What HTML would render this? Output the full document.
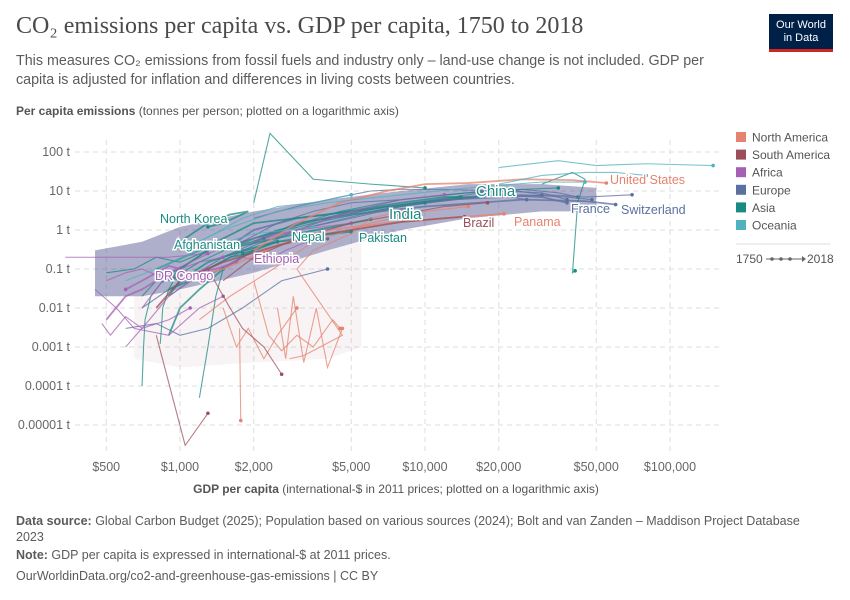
<!DOCTYPE html>
<html><head><meta charset="utf-8"><style>
body{margin:0;background:#fff;font-family:"Liberation Sans",sans-serif;}
#wrap{position:relative;width:850px;height:600px;overflow:hidden;}
.t{position:absolute;white-space:nowrap;}
</style></head><body>
<div id="wrap">
<div class="t" style="left:16px;top:13px;font-family:'Liberation Serif',serif;font-size:24px;color:#4a4a4a;">CO₂ emissions per capita vs. GDP per capita, 1750 to 2018</div>
<div class="t" style="left:16px;top:52px;font-size:14.3px;line-height:19px;color:#5b5b5b;">This measures CO₂ emissions from fossil fuels and industry only – land-use change is not included. GDP per<br>capita is adjusted for inflation and differences in living costs between countries.</div>
<div style="position:absolute;left:769px;top:14px;width:64px;height:38px;background:#002147;border-bottom:3px solid #ce261e;color:#fff;font-size:11px;line-height:13px;text-align:center;padding-top:5px;box-sizing:border-box;">Our World<br>in Data</div>
<svg id="chart" width="850" height="600" style="position:absolute;left:0;top:0"></svg>
<div class="t" style="left:16px;top:513px;font-size:12.5px;line-height:16px;color:#5b5b5b;"><b>Data source:</b> Global Carbon Budget (2025); Population based on various sources (2024); Bolt and van Zanden – Maddison Project Database<br>2023</div>
<div class="t" style="left:16px;top:548px;font-size:12.5px;color:#5b5b5b;"><b>Note:</b> GDP per capita is expressed in international-$ at 2011 prices.</div>
<div class="t" style="left:16px;top:569px;font-size:12.5px;color:#5b5b5b;">OurWorldinData.org/co2-and-greenhouse-gas-emissions | CC BY</div>
</div>
<script>
const xTicks=[500,1000,2000,5000,10000,20000,50000,100000];
const xTickLabels=["$500","$1,000","$2,000","$5,000","$10,000","$20,000","$50,000","$100,000"];
const yTicks=[100,10,1,0.1,0.01,0.001,0.0001,0.00001];
const yTickLabels=["100 t","10 t","1 t","0.1 t","0.01 t","0.001 t","0.0001 t","0.00001 t"];
const regions=["North America","South America","Africa","Europe","Asia","Oceania"];
const regionColors=["#E6836E","#9B4F5B","#A560B4","#5B70A0","#1A8B82","#4FB2BE"];
const bandGdp=[450,700,1000,2000,4000,8000,15000,30000,50000];
const bandLow=[0.02,0.02,0.03,0.08,0.3,1,2,3,3];
const bandHigh=[0.3,0.5,1.2,3,6,10,15,15,12];
const lowBandGdp=[650,1000,2000,4000,5500];
const lowBandLow=[0.0005,0.0003,0.0004,0.0005,0.001];
const lowBandHigh=[0.02,0.03,0.08,0.3,0.5];
const series=[
{n:"eu1",r:3,g:[1800,2500,3500,5000,8000,12000,18000,25000,35000,42000],c:[0.5,1.5,3,5,6,8,10,11,9,7]},
{n:"eu2",r:3,g:[1200,2000,3000,4500,7000,11000,17000,24000,30000],c:[0.05,0.3,1,2.5,4,6,9,10,8]},
{n:"eu3",r:3,g:[1500,2200,3200,5000,9000,15000,25000,38000,48000],c:[0.2,0.6,1.5,3,5,7,8,7,6]},
{n:"eu4",r:3,g:[900,1300,2000,3000,5500,9000,14000,20000,26000],c:[0.02,0.1,0.4,1,2.5,5,7,8,6]},
{n:"eu5",r:3,g:[2000,3000,4500,6000,8000,12000,20000,30000,38000],c:[2,4,7,10,11,11,10,9,6]},
{n:"eu6",r:3,g:[700,900,1100,1500,2500,4000],c:[0.01,0.03,0.06,0.2,0.5,0.6]},
{n:"eu7",r:3,g:[600,800,1000,1300,1800,2600,4000],c:[0.003,0.004,0.002,0.003,0.01,0.05,0.1]},
{n:"eu8",r:3,g:[3000,5000,8000,13000,22000,32000,45000,70000],c:[1,2,4,6,7,8,7,8]},
{n:"France",r:3,g:[1500,2000,3000,5000,10000,20000,30000,38000],c:[0.3,1,2,3,5,8,7,5]},
{n:"Switzerland",r:3,g:[2000,3000,5000,10000,25000,45000,60000],c:[0.5,1.5,2.5,4,6,5.5,4.5]},
{n:"as1",r:4,g:[700,800,1000,1300,2000,3500,6000,10000],c:[0.02,0.05,0.1,0.3,0.6,1.5,3,5]},
{n:"as2",r:4,g:[900,1200,1800,2800,4500,8000,15000,25000,35000],c:[0.05,0.15,0.5,1.2,3,6,9,11,12]},
{n:"as3",r:4,g:[2000,2330,3500,6000,10000],c:[5,300,20,15,12]},
{n:"as3b",r:5,g:[20000,35000,50000,80000,150000],c:[40,60,45,50,45]},
{n:"as4",r:4,g:[30000,40000,45000,42000,40000,41000],c:[15,30,20,5,0.08,0.09]},
{n:"as5",r:4,g:[700,710,720,760,850],c:[0.0001,0.001,0.005,0.02,0.05]},
{n:"as6",r:4,g:[830,840,850,900,1000],c:[0.0012,0.003,0.01,0.03,0.1]},
{n:"as7",r:4,g:[1500,2500,4000,7000,12000,20000],c:[0.3,1,2,4,6,8]},
{n:"as8",r:4,g:[500,650,800,1000,1300,1700,2200],c:[0.08,0.1,0.2,0.15,0.3,0.4,0.6]},
{n:"as9",r:4,g:[1200,1300,1400,1500],c:[0.00005,0.001,0.02,0.1]},
{n:"North Korea",r:4,g:[1000,1300,1600,1900,1500,1300],c:[0.5,1.5,2.5,3,1.5,1.2]},
{n:"Afghanistan",r:4,g:[900,1100,1300,1600,1900,2000,1800],c:[0.03,0.05,0.1,0.2,0.25,0.3,0.25]},
{n:"Nepal",r:4,g:[900,1000,1200,1500,2000,2500],c:[0.002,0.01,0.03,0.1,0.3,0.5]},
{n:"Pakistan",r:4,g:[1000,1300,1800,2500,3500,5000],c:[0.05,0.15,0.3,0.5,0.7,0.9]},
{n:"India",r:4,g:[900,1000,1100,1300,1800,3000,4500,6000],c:[0.05,0.1,0.15,0.3,0.4,0.8,1.3,1.9]},
{n:"China",r:4,g:[900,1000,800,1200,2000,4000,8000,12000,14000],c:[0.02,0.05,0.1,0.3,1.5,2.5,5,7,7]},
{n:"af1",r:2,g:[500,600,700,800,1000,1200,1500],c:[0.05,0.08,0.1,0.07,0.1,0.15,0.2]},
{n:"af2",r:2,g:[700,800,900,1100,1400,2000,3000,5000],c:[0.01,0.03,0.08,0.15,0.3,0.6,1,1.5]},
{n:"Ethiopia",r:2,g:[500,600,700,800,1000,1400,1700],c:[0.005,0.02,0.03,0.05,0.07,0.1,0.15]},
{n:"DR Congo",r:2,g:[1200,1000,900,800,700,600],c:[0.05,0.1,0.12,0.08,0.05,0.03]},
{n:"af5",r:2,g:[450,550,650,900,1200,1500],c:[0.03,0.01,0.003,0.002,0.01,0.02]},
{n:"af6",r:1,g:[800,1050,1300],c:[0.002,0.000003,0.00002]},
{n:"af7",r:2,g:[2000,3000,5000,8000,12000],c:[0.5,1,3,6,8]},
{n:"af8",r:2,g:[340,500,900,1300],c:[0.2,0.2,0.2,0.25]},
{n:"af9",r:2,g:[600,750,900,1100,1300],c:[0.001,0.005,0.02,0.05,0.1]},
{n:"af10",r:2,g:[480,520,600,700,900,1100],c:[0.004,0.002,0.006,0.003,0.005,0.01]},
{n:"af11",r:2,g:[1500,1800,2200,2700,3300],c:[0.1,0.2,0.15,0.3,0.5]},
{n:"na1",r:0,g:[1500,1700,1900,2200,2500,3000],c:[0.01,0.001,0.003,0.0005,0.002,0.01]},
{n:"na2",r:0,g:[2000,2300,2600,3000,3500,4200,4500],c:[0.05,0.002,0.0008,0.002,0.001,0.005,0.003]},
{n:"na3",r:0,g:[1750,1760,1770],c:[0.003,0.0002,0.000013]},
{n:"na4",r:0,g:[2800,3200,4600,3000,3500,5000,6000,8000],c:[0.0005,0.0006,0.002,0.1,0.3,0.8,2,3]},
{n:"na6",r:0,g:[2500,2700,2900,3200,3600,4000,4600],c:[0.01,0.0005,0.02,0.0004,0.01,0.0003,0.003]},
{n:"United States",r:0,g:[2000,3000,4500,7000,10000,15000,25000,40000,55000],c:[0.3,1.5,5,10,15,16,20,19,16]},
{n:"Panama",r:0,g:[1000,1500,2500,4000,7000,12000,21000],c:[0.05,0.1,0.4,1,1.5,2,2.6]},
{n:"na5",r:0,g:[1200,1600,2400,3500,6000,10000,15000],c:[0.005,0.02,0.1,0.5,1.5,3,4]},
{n:"Brazil",r:1,g:[800,1000,1500,2500,4000,8000,12000,14500],c:[0.01,0.05,0.15,0.4,0.8,1.6,2,2.2]},
{n:"sa1",r:1,g:[1500,2000,3000,5000,8000,12000,18000],c:[0.05,0.2,0.6,1.5,2.5,4,5]},
{n:"sa2",r:1,g:[1300,1600,1800,2200,2600],c:[0.1,0.01,0.003,0.001,0.0002]},
{n:"oc1",r:5,g:[1000,1500,2500,4000,8000,15000,30000,45000],c:[0.3,1,3,5,8,12,17,17]},
{n:"oc2",r:5,g:[600,800,1200,2000,3500],c:[0.05,0.1,0.3,0.8,1.2]},
{n:"oc3",r:5,g:[20000,30000,45000,60000,80000],c:[15,25,30,30,25]},
{n:"oc4",r:5,g:[1200,1800,2500,3500,5000],c:[0.5,2,4,5,8]}
];
const labels=[["North Korea",4,160,223],["Afghanistan",4,174,249],["Nepal",4,292,241],["Pakistan",4,359,242],["India",4,389,219],["China",4,476,196],["Ethiopia",2,254,263],["DR Congo",2,155,280],["Brazil",1,463,227],["Panama",0,514,226],["United States",0,610,184],["France",3,571,213],["Switzerland",3,621,214]];
const NS="http://www.w3.org/2000/svg";
const svg=document.getElementById('chart');
const X=g=>180+245*Math.log10(g/1000);
const Y=c=>230-39*Math.log10(c);
function mk(t,a){const e=document.createElementNS(NS,t);for(const k in a)e.setAttribute(k,a[k]);svg.appendChild(e);return e;}
yTicks.forEach((v,i)=>{
 const l=mk('line',{x1:75,x2:720,y1:Y(v),y2:Y(v),stroke:'#ddd','stroke-dasharray':'5,4'});
 
 
 const t=mk('text',{x:70,y:Y(v)+4,'text-anchor':'end','font-size':12.5,fill:'#666'});t.textContent=yTickLabels[i];
 
 
});
xTicks.forEach((v,i)=>{
 const l=mk('line',{x1:X(v),x2:X(v),y1:140,y2:452,stroke:'#ddd','stroke-dasharray':'5,4'});
 
 
 const t=mk('text',{x:X(v),y:471,'text-anchor':'middle','font-size':12.5,fill:'#666'});t.textContent=xTickLabels[i];
 
 
});
let yt=mk('text',{x:16,y:115,'font-size':12,fill:'#555'});yt.innerHTML='<tspan font-weight="bold">Per capita emissions</tspan> (tonnes per person; plotted on a logarithmic axis)';


let xt=mk('text',{x:396,y:493,'text-anchor':'middle','font-size':12,fill:'#555'});xt.innerHTML='<tspan font-weight="bold">GDP per capita</tspan> (international-$ in 2011 prices; plotted on a logarithmic axis)';


function bandPts(gs,lo,hi){return gs.map((g,i)=>X(g)+','+Y(hi[i])).join(' ')+' '+gs.map((g,i)=>X(g)+','+Y(lo[i])).reverse().join(' ');}
const lband=mk('polygon',{points:bandPts(lowBandGdp,lowBandLow,lowBandHigh),fill:'#c99aa6','fill-opacity':0.12,stroke:'none'});


const band=mk('polygon',{points:bandPts(bandGdp,bandLow,bandHigh),fill:'#5e5f98','fill-opacity':0.5,stroke:'none'});


series.forEach(s=>{
 const col=regionColors[s.r];
 const pts=s.g.map((g,i)=>X(g)+','+Y(s.c[i])).join(' ');
 const p=mk('polyline',{points:pts,fill:'none',stroke:col,'stroke-width':labels.some(l=>l[0]===s.n)?1.8:1.1,'stroke-opacity':0.75});
 
 
 const k=s.g.length-1;
 const d=mk('circle',{cx:X(s.g[k]),cy:Y(s.c[k]),r:1.8,fill:col});
 
 
});
labels.forEach(l=>{
 const big=l[0]==='India'||l[0]==='China';
 const t=mk('text',{x:l[2],y:l[3],'font-size':big?15:12.5,fill:regionColors[l[1]],stroke:'#fff','stroke-width':3,'paint-order':'stroke'});
 t.textContent=l[0];
 
 
});
regions.forEach((r,i)=>{
 const y=132+i*17.6;
 const s=mk('rect',{x:736,y:y,width:10,height:10,fill:regionColors[i]});
 
 
 const t=mk('text',{x:752,y:y+9.5,'font-size':12,fill:'#555'});t.textContent=r;
 
 
});
const dv=mk('line',{x1:736,x2:830,y1:244,y2:244,stroke:'#ddd'});


const t1=mk('text',{x:736,y:263,'font-size':12,fill:'#555'});t1.textContent='1750';


const ar=mk('line',{x1:766,x2:802,y1:259,y2:259,stroke:'#666','stroke-width':1});


[772,781,790].forEach(x=>{const c=mk('circle',{cx:x,cy:259,r:1.8,fill:'#666'});
 
 });
const ah=mk('polygon',{points:'802,256 806,259 802,262',fill:'#666'});


const t2=mk('text',{x:807,y:263,'font-size':12,fill:'#555'});t2.textContent='2018';


</script>
</body></html>
